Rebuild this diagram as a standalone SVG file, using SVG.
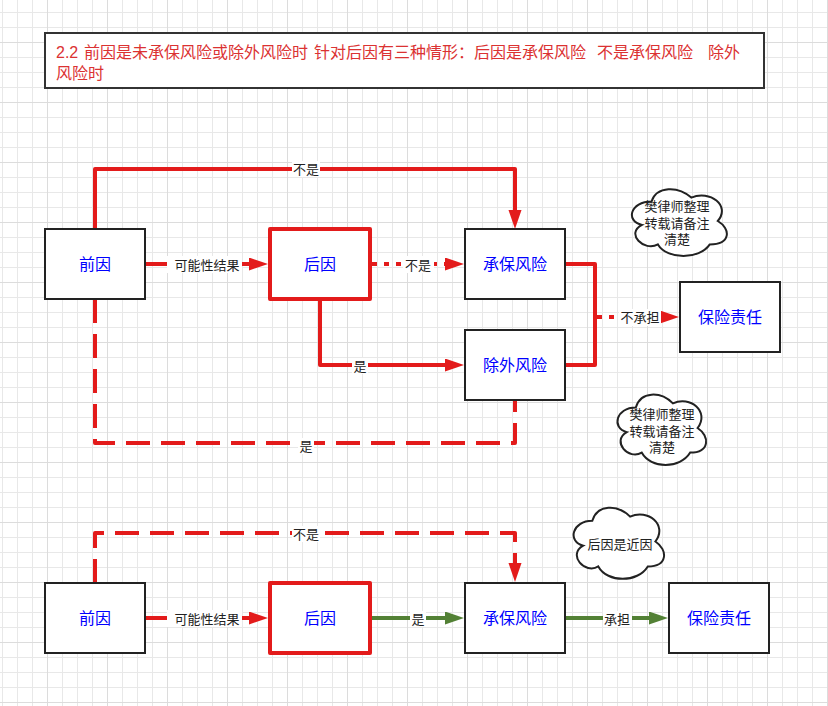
<svg xmlns="http://www.w3.org/2000/svg" width="828" height="706" viewBox="0 0 828 706">
<defs>
<pattern id="grid" patternUnits="userSpaceOnUse" x="47" y="42" width="60" height="60">
<path d="M15.5,0V60M30.5,0V60M45.5,0V60M0,15.5H60M0,30.5H60M0,45.5H60" stroke="#e8e8e8" stroke-width="1" fill="none"/>
<path d="M0.5,0V60M0,0.5H60" stroke="#dcdcdc" stroke-width="1" fill="none"/>
</pattern>
<marker id="arR" markerUnits="userSpaceOnUse" viewBox="0 0 20 14" markerWidth="20" markerHeight="14" refX="9" refY="6.5" orient="auto"><path d="M0,0 L19,6.5 L0,13 Z" fill="#e31b1b"/></marker>
<marker id="arG" markerUnits="userSpaceOnUse" viewBox="0 0 20 14" markerWidth="20" markerHeight="14" refX="9" refY="6.5" orient="auto"><path d="M0,0 L19,6.5 L0,13 Z" fill="#538135"/></marker>
<style>
.box{fill:#fff;stroke:#222;stroke-width:2}
.boxr{fill:#fff;stroke:#e31b1b;stroke-width:4;stroke-linejoin:round}
.nt{font-family:"Noto Sans CJK SC","Noto Sans",sans-serif;font-size:16px;fill:#0000ff;text-anchor:middle}
.lt{font-family:"Noto Sans CJK SC","Noto Sans",sans-serif;font-size:13px;fill:#222;text-anchor:middle}
.ct{font-family:"Noto Sans CJK SC","Noto Sans",sans-serif;font-size:13px;fill:#222;text-anchor:middle}
.lb{fill:#fff}
.er{fill:none;stroke:#e31b1b;stroke-width:4;stroke-linejoin:round}
.eg{fill:none;stroke:#538135;stroke-width:4;stroke-linejoin:round}
.dash{stroke-dasharray:24 11}
.dot{stroke-dasharray:5 7}
.cloud{fill:#fff;stroke:#222;stroke-width:2}
.title{font-family:"Liberation Sans","Noto Sans CJK SC",sans-serif;font-size:16px;fill:#db3232}
</style>
</defs>
<rect width="828" height="706" fill="#fff"/>
<rect width="828" height="706" fill="url(#grid)"/>

<g id="title">
<rect x="45" y="33" width="719" height="55" fill="#fff" stroke="#333" stroke-width="2"/>
<text class="title" y="57.5"><tspan x="56">2.2</tspan><tspan x="84">前因是未承保风险或除外风险时</tspan><tspan x="314">针对后因有三种情形：后因是承保风险</tspan><tspan x="597">不是承保风险</tspan><tspan x="708">除外</tspan></text>
<text class="title" x="56" y="79">风险时</text>
</g>

<g id="connectors">
<!-- top section -->
<path class="er" d="M95,229 V169 H515 V219" marker-end="url(#arR)"/>
<path class="er" d="M145,264 H258" marker-end="url(#arR)"/>
<path class="er dot" d="M372,264 H454" marker-end="url(#arR)"/>
<path class="er" d="M320,299 V365 H454" marker-end="url(#arR)"/>
<path class="er dash" d="M95,299 V443 H515 V400"/>
<path class="er" d="M565,264 H595 V365 H565"/>
<path class="er dot" d="M597,317 H669" marker-end="url(#arR)"/>
<!-- bottom section -->
<path class="er dash" d="M95,583 V533 H515 V572" marker-end="url(#arR)"/>
<path class="er" d="M145,618 H258" marker-end="url(#arR)"/>
<path class="eg" d="M372,618 H454" marker-end="url(#arG)"/>
<path class="eg" d="M565,618 H658" marker-end="url(#arG)"/>

<!-- labels -->
<rect class="lb" x="292" y="161" width="28" height="16"/><text class="lt" x="306" y="174">不是</text>
<rect class="lb" x="167" y="256" width="75" height="17"/><text class="lt" x="207" y="270">可能性结果</text>
<rect class="lb" x="403" y="256" width="31" height="17"/><text class="lt" x="418" y="270">不是</text>
<rect class="lb" x="352" y="358" width="16" height="16"/><text class="lt" x="360" y="371">是</text>
<rect class="lb" x="298" y="438" width="16" height="16"/><text class="lt" x="306" y="451">是</text>
<rect class="lb" x="619" y="309" width="42" height="17"/><text class="lt" x="640" y="322">不承担</text>
<rect class="lb" x="292" y="526" width="28" height="16"/><text class="lt" x="306" y="539">不是</text>
<rect class="lb" x="167" y="610" width="75" height="17"/><text class="lt" x="207" y="624">可能性结果</text>
<rect class="lb" x="410" y="611" width="16" height="16"/><text class="lt" x="418" y="624">是</text>
<rect class="lb" x="603" y="611" width="29" height="16"/><text class="lt" x="617" y="624">承担</text>
</g>

<g id="n-qianyin1"><rect class="box" x="45" y="229" width="100" height="70"/><text class="nt" x="95" y="270">前因</text></g>
<g id="n-houyin1"><rect class="boxr" x="270" y="229" width="100" height="70"/><text class="nt" x="320" y="270">后因</text></g>
<g id="n-chengbao1"><rect class="box" x="465" y="229" width="100" height="70"/><text class="nt" x="515" y="270">承保风险</text></g>
<g id="n-chuwai1"><rect class="box" x="465" y="330" width="100" height="70"/><text class="nt" x="515" y="371">除外风险</text></g>
<g id="n-zeren1"><rect class="box" x="680" y="282" width="100" height="70"/><text class="nt" x="730" y="323">保险责任</text></g>

<g id="n-cloud1"><path class="cloud" d="M651.5,201.5 C630.3,201.5 625,221 642,224.9 C625,233.5 644.1,252.2 657.9,244.4 C667.4,260 699.2,260 709.8,244.4 C731,244.4 731,228.8 717.8,221 C731,205.4 709.8,189.8 691.3,197.6 C678,185.9 656.8,185.9 651.5,201.5 Z"/>
<text class="ct" x="677" y="211">樊律师整理</text><text class="ct" x="677" y="227.5">转载请备注</text><text class="ct" x="677" y="244">清楚</text></g>
<g id="n-cloud2"><path class="cloud" d="M635.8,407.5 C616,407.5 611,428 626.8,432.1 C611,441.1 628.8,460.8 641.7,452.6 C650.6,469 680.3,469 690.2,452.6 C710,452.6 710,436.2 697.6,428 C710,411.6 690.2,395.2 672.9,403.4 C660.5,391.1 640.7,391.1 635.8,407.5 Z"/>
<text class="ct" x="662" y="419">樊律师整理</text><text class="ct" x="662" y="435.5">转载请备注</text><text class="ct" x="662" y="452">清楚</text></g>

<g id="n-qianyin2"><rect class="box" x="45" y="583" width="100" height="70"/><text class="nt" x="95" y="624">前因</text></g>
<g id="n-houyin2"><rect class="boxr" x="270" y="583" width="100" height="70"/><text class="nt" x="320" y="624">后因</text></g>
<g id="n-chengbao2"><rect class="box" x="465" y="583" width="100" height="70"/><text class="nt" x="515" y="624">承保风险</text></g>
<g id="n-zeren2"><rect class="box" x="669" y="583" width="100" height="70"/><text class="nt" x="719" y="624">保险责任</text></g>
<g id="n-cloud3"><path class="cloud" d="M592.3,520.8 C572.1,520.8 567,541.5 583.2,545.7 C567,554.8 585.2,574.7 598.3,566.4 C607.4,583 637.7,583 647.8,566.4 C668,566.4 668,549.8 655.4,541.5 C668,524.9 647.8,508.3 630.1,516.6 C617.5,504.2 597.3,504.2 592.3,520.8 Z"/>
<text class="ct" x="620" y="549">后因是近因</text></g>
</svg>
